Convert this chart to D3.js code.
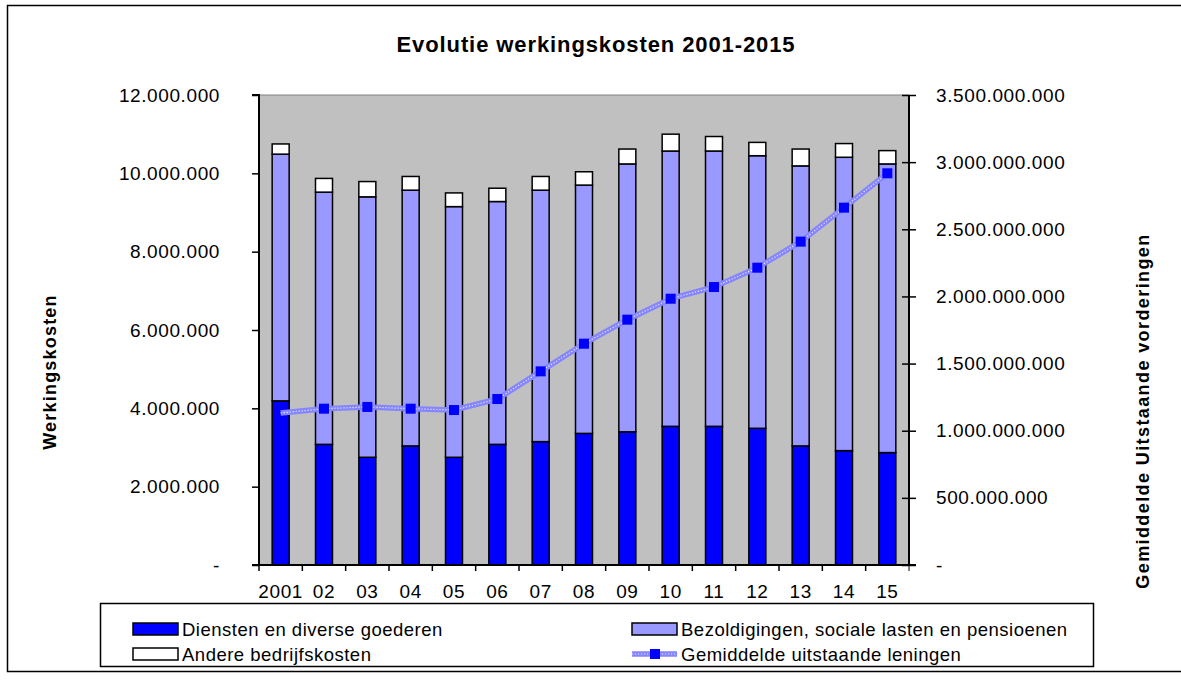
<html>
	<head>
		<script src="https://cdn.jsdelivr.net/npm/d3@7"></script>
		<style>
			body { margin: 0; background: #fff; }
			text { font-family: "Liberation Sans", Arial, sans-serif; fill: #000; }
		</style>
	</head>
	<body>
		<svg width="1181" height="681"></svg>
		<script>

		// data
		var years = ["2001","02","03","04","05","06","07","08","09","10","11","12","13","14","15"];
		var diensten = [4190000,3080000,2750000,3040000,2750000,3080000,3150000,3360000,3400000,3540000,3540000,3490000,3040000,2920000,2870000];
		var bezoldigingen = [6300000,6440000,6650000,6530000,6400000,6200000,6420000,6340000,6840000,7030000,7030000,6960000,7150000,7490000,7370000];
		var andere = [260000,350000,390000,350000,350000,340000,350000,340000,380000,430000,370000,340000,430000,350000,340000];
		var leningen = [1132000000,1164000000,1177000000,1164000000,1154000000,1236000000,1442000000,1648000000,1827000000,1983000000,2070000000,2214000000,2408000000,2661000000,2917000000];
		var leftTicks = [0,2000000,4000000,6000000,8000000,10000000,12000000];
		var rightTicks = [0,500000000,1000000000,1500000000,2000000000,2500000000,3000000000,3500000000];

		var keys = ["diensten","bezoldigingen","andere"];
		var colors = {diensten:"#0000ff", bezoldigingen:"#9999ff", andere:"#ffffff"};

		var rows = years.map(function(y, i) {
			return {year:y, diensten:diensten[i], bezoldigingen:bezoldigingen[i], andere:andere[i], leningen:leningen[i]};
		});

		var svg = d3.select("svg"),
		plot = {left:259, right:909, top:95, bottom:565};

		var nl = d3.formatLocale({decimal:",", thousands:".", grouping:[3], currency:["€",""]});
		var fmt = function(v) { return v === 0 ? "-" : nl.format(",.0f")(v); };

		var x = d3.scaleBand().domain(years).range([plot.left, plot.right]);
		var y = d3.scaleLinear().domain([0, 12000000]).range([plot.bottom, plot.top]);
		var y2 = d3.scaleLinear().domain([0, 3500000000]).range([plot.bottom, plot.top]);
		var barW = 17;

		// outer frame
		svg.append("rect").attr("x", 7.5).attr("y", 5.5).attr("width", 1190).attr("height", 666)
			.attr("fill", "#fff").attr("stroke", "#000").attr("stroke-width", 1.5);

		svg.append("rect").attr("x", plot.left).attr("y", plot.top)
			.attr("width", plot.right - plot.left).attr("height", plot.bottom - plot.top)
			.attr("fill", "#c0c0c0").attr("stroke", "#808080").attr("stroke-width", 1);

		svg.append("text").attr("x", 596).attr("y", 52).attr("text-anchor", "middle")
			.attr("font-size", 22).attr("font-weight", "bold").style("letter-spacing", "0.9px")
			.text("Evolutie werkingskosten 2001-2015");

		// stacked bars
		var series = d3.stack().keys(keys)(rows);
		svg.append("g").selectAll("g").data(series).enter().append("g")
			.attr("fill", function(d) { return colors[d.key]; })
			.selectAll("rect").data(function(d) { return d; }).enter().append("rect")
			.attr("x", function(d) { return x(d.data.year) + x.bandwidth() / 2 - barW / 2; })
			.attr("y", function(d) { return y(d[1]); })
			.attr("width", barW)
			.attr("height", function(d) { return y(d[0]) - y(d[1]); })
			.attr("stroke", "#000").attr("stroke-width", 1.5);

		// left axis
		var gl = svg.append("g").attr("transform", "translate(" + plot.left + ",0)")
			.call(d3.axisLeft(y).tickValues(leftTicks).tickSize(7).tickPadding(32).tickFormat(fmt));
		// right axis
		var gr = svg.append("g").attr("transform", "translate(" + plot.right + ",0)")
			.call(d3.axisRight(y2).tickValues(rightTicks).tickSize(7).tickPadding(20).tickFormat(fmt));
		gr.selectAll(".tick line").attr("x1", -7);
		// bottom axis, ticks between categories
		var gb = svg.append("g").attr("transform", "translate(0," + plot.bottom + ")")
			.call(d3.axisBottom(x).tickSize(0).tickPadding(20));
		gb.selectAll(".tick").each(function(d) {
			d3.select(this).append("line").attr("x1", -x.bandwidth() / 2).attr("x2", -x.bandwidth() / 2)
				.attr("y2", 6).attr("stroke", "#000");
		});
		gb.append("line").attr("x1", plot.right).attr("x2", plot.right).attr("y2", 6).attr("stroke", "#000");

		[gl, gr, gb].forEach(function(g) {
			g.select(".domain").attr("stroke", "#000").attr("stroke-width", 2);
			g.selectAll(".tick line").attr("stroke", "#000").attr("stroke-width", 1.5);
			g.selectAll(".tick text").attr("font-size", 19).attr("font-family", "Liberation Sans, Arial")
				.style("letter-spacing", "0.6px");
		});
		gl.select(".domain").attr("d", "M-7," + plot.bottom + "H0V" + plot.top + "H-7");
		gr.select(".domain").attr("d", "M0," + plot.bottom + "V" + plot.top);
		gb.select(".domain").attr("d", "M" + (plot.left - 7) + ",0H" + (plot.right + 7));

		// axis titles
		svg.append("text").attr("transform", "translate(56,372) rotate(-90)").attr("text-anchor", "middle")
			.attr("font-size", 18).attr("font-weight", "bold").style("letter-spacing", "1.2px").text("Werkingskosten");
		svg.append("text").attr("transform", "translate(1149,411) rotate(-90)").attr("text-anchor", "middle")
			.attr("font-size", 18).attr("font-weight", "bold").style("letter-spacing", "1.4px").text("Gemiddelde Uitstaande vorderingen");

		// line on the right axis
		var line = d3.line()
			.x(function(d) { return x(d.year) + x.bandwidth() / 2; })
			.y(function(d) { return y2(d.leningen); });
		svg.append("path").datum(rows).attr("fill", "none").attr("stroke", "#8585ff")
			.attr("stroke-width", 5.5).attr("stroke-linejoin", "round").attr("d", line);
		svg.append("path").datum(rows).attr("fill", "none").attr("stroke", "#ffffff").attr("stroke-opacity", 0.8)
			.attr("stroke-width", 1.2).attr("stroke-dasharray", "1.2,1.8").attr("d", line);
		svg.append("g").selectAll("rect").data(rows.slice(1)).enter().append("rect")
			.attr("x", function(d) { return x(d.year) + x.bandwidth() / 2 - 5; })
			.attr("y", function(d) { return y2(d.leningen) - 5; })
			.attr("width", 10).attr("height", 10).attr("fill", "#0000ff");

		// legend
		var lg = svg.append("g");
		lg.append("rect").attr("x", 100.5).attr("y", 603.5).attr("width", 993).attr("height", 63)
			.attr("fill", "#fff").attr("stroke", "#000").attr("stroke-width", 1.5);
		var items = [
			{label:"Diensten en diverse goederen", fill:colors.diensten, x:133, y:629},
			{label:"Bezoldigingen, sociale lasten en pensioenen", fill:colors.bezoldigingen, x:632, y:629},
			{label:"Andere bedrijfskosten", fill:colors.andere, x:133, y:654},
			{label:"Gemiddelde uitstaande leningen", line:true, x:632, y:654}
		];
		items.forEach(function(it) {
			if (it.line) {
				lg.append("line").attr("x1", it.x).attr("x2", it.x + 45).attr("y1", it.y).attr("y2", it.y)
					.attr("stroke", "#8585ff").attr("stroke-width", 5.5);
				lg.append("line").attr("x1", it.x).attr("x2", it.x + 45).attr("y1", it.y).attr("y2", it.y)
					.attr("stroke", "#fff").attr("stroke-opacity", 0.8).attr("stroke-width", 1.2).attr("stroke-dasharray", "1.2,1.8");
				lg.append("rect").attr("x", it.x + 18).attr("y", it.y - 5).attr("width", 10).attr("height", 10).attr("fill", "#0000ff");
			} else {
				lg.append("rect").attr("x", it.x).attr("y", it.y - 6).attr("width", 45).attr("height", 12)
					.attr("fill", it.fill).attr("stroke", "#000").attr("stroke-width", 1.5);
			}
			lg.append("text").attr("x", it.x + 49).attr("y", it.y + 6.5).attr("font-size", 18.5)
				.style("letter-spacing", "0.5px").text(it.label);
		});
		</script>
	</body>
</html>
